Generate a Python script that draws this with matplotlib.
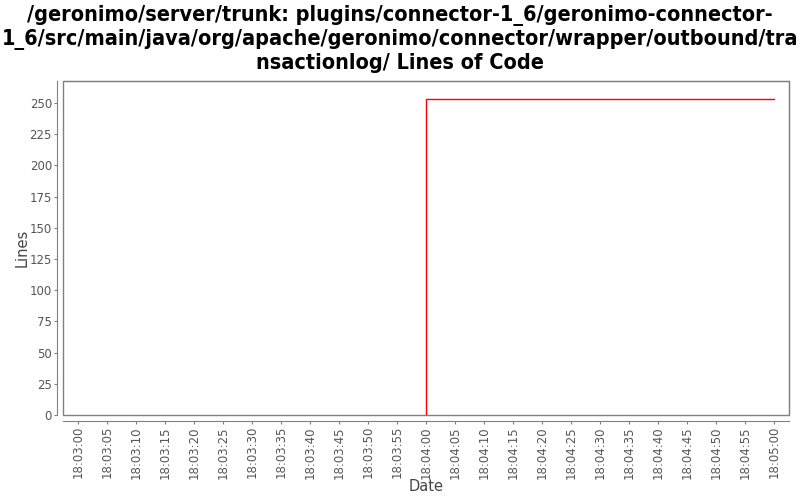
import matplotlib
matplotlib.use("Agg")
import matplotlib.pyplot as plt
import matplotlib.dates as mdates
import pandas as pd

# data
dates = ["2000-01-01 18:04:00", "2000-01-01 18:04:00", "2000-01-01 18:05:00"]
lines = [0, 253, 253]
title = ("/geronimo/server/trunk: plugins/connector-1_6/geronimo-connector-\n"
         "1_6/src/main/java/org/apache/geronimo/connector/wrapper/outbound/tra\n"
         "nsactionlog/ Lines of Code")

t = pd.to_datetime(dates)
start = pd.Timestamp("2000-01-01 18:03:00")
end = pd.Timestamp("2000-01-01 18:05:00")
pad = pd.Timedelta(seconds=2.6)

fig = plt.figure(figsize=(8, 5), dpi=100)
ax = fig.add_axes([63 / 800, 1 - 415 / 500, (789 - 63) / 800, (415 - 81) / 500])

ax.plot(t, lines, color="red", lw=1)

ax.set_xlim(start - pad, end + pad)
ax.set_ylim(0, 267.6)
ax.set_yticks(range(0, 251, 25))
ax.xaxis.set_major_locator(mdates.SecondLocator(bysecond=range(0, 60, 5)))
ax.xaxis.set_major_formatter(mdates.DateFormatter("%H:%M:%S"))

grey = "#808080"
ax.patch.set_edgecolor(grey)
ax.patch.set_linewidth(1)
for s in ("left", "bottom"):
    ax.spines[s].set_position(("outward", 4))
    ax.spines[s].set_color(grey)
for s in ("top", "right"):
    ax.spines[s].set_color(grey)

ax.tick_params(colors=grey, labelcolor="#555555", labelsize=8.5, length=2, pad=2)
plt.setp(ax.get_xticklabels(), rotation=90)

ax.set_xlabel("Date", fontsize=10.5, color="#444444", labelpad=0)
ax.set_ylabel("Lines", fontsize=10.5, color="#444444", labelpad=0)

fig.suptitle(title, x=0.5, y=0.99, fontsize=15.5, fontweight="bold",
             family="DejaVu Sans", stretch="condensed", linespacing=1.2)

fig.savefig("out.png", dpi=100)
